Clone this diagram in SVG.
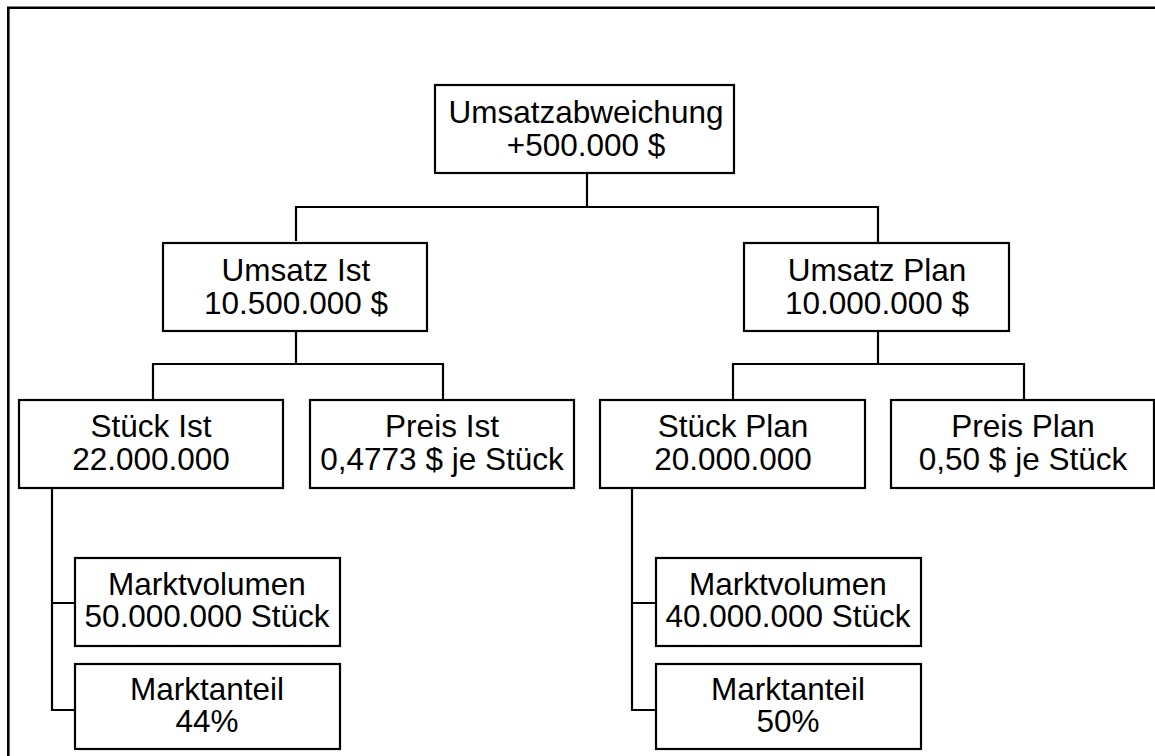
<svg xmlns="http://www.w3.org/2000/svg" width="1155" height="756" viewBox="0 0 1155 756">
  <style>
    .box { fill: #fff; stroke: #000; stroke-width: 2.2; }
    .lbl { font-family: "Liberation Sans", Arial, Helvetica, sans-serif; font-size: 31.5px; fill: #000; text-anchor: middle; }
    .wire { fill: none; stroke: #000; stroke-width: 2.2; stroke-linecap: square; }
    .frame { fill: none; stroke: #000; stroke-width: 2.6; }
  </style>
  <rect width="1155" height="756" fill="#fff"/>
  <!-- open frame: top and left edges only -->
  <path class="frame" d="M1155,7.7 H8.3 V756"/>

  <g id="connectors">
    <path class="wire" d="M587,173 V207 M296,240 V207 H878 V242"/>
    <path class="wire" d="M296,331 V364 M153,398 V364 H443 V398"/>
    <path class="wire" d="M878,331 V364 M733,398 V364 H1024 V398"/>
    <path class="wire" d="M52,488 V710 H74 M52,603 H74"/>
    <path class="wire" d="M632,488 V710 H656 M632,603 H656"/>
  </g>

  <g id="umsatzabweichung">
    <rect class="box" x="435" y="85" width="299" height="88"/>
    <text class="lbl" x="586" y="123">Umsatzabweichung</text>
    <text class="lbl" x="586" y="155.5">+500.000 $</text>
  </g>

  <g id="umsatz-ist">
    <rect class="box" x="163" y="243" width="264" height="88"/>
    <text class="lbl" x="296" y="281">Umsatz Ist</text>
    <text class="lbl" x="296" y="313.5">10.500.000 $</text>
  </g>

  <g id="umsatz-plan">
    <rect class="box" x="744" y="243" width="265" height="88"/>
    <text class="lbl" x="877" y="281">Umsatz Plan</text>
    <text class="lbl" x="877" y="313.5">10.000.000 $</text>
  </g>

  <g id="stueck-ist">
    <rect class="box" x="19" y="400" width="264" height="88"/>
    <text class="lbl" x="151" y="437">Stück Ist</text>
    <text class="lbl" x="151" y="469.5">22.000.000</text>
  </g>

  <g id="preis-ist">
    <rect class="box" x="310" y="400" width="264" height="88"/>
    <text class="lbl" x="442" y="437">Preis Ist</text>
    <text class="lbl" x="442" y="469.5">0,4773 $ je Stück</text>
  </g>

  <g id="stueck-plan">
    <rect class="box" x="600" y="400" width="265" height="88"/>
    <text class="lbl" x="733" y="437">Stück Plan</text>
    <text class="lbl" x="733" y="469.5">20.000.000</text>
  </g>

  <g id="preis-plan">
    <rect class="box" x="891" y="400" width="263" height="88"/>
    <text class="lbl" x="1023" y="437">Preis Plan</text>
    <text class="lbl" x="1023" y="469.5">0,50 $ je Stück</text>
  </g>

  <g id="marktvolumen-ist">
    <rect class="box" x="75" y="558" width="265" height="88"/>
    <text class="lbl" x="207" y="594.5">Marktvolumen</text>
    <text class="lbl" x="207" y="627">50.000.000 Stück</text>
  </g>

  <g id="marktanteil-ist">
    <rect class="box" x="75" y="664" width="265" height="85"/>
    <text class="lbl" x="207" y="699.5">Marktanteil</text>
    <text class="lbl" x="207" y="732">44%</text>
  </g>

  <g id="marktvolumen-plan">
    <rect class="box" x="656" y="558" width="265" height="88"/>
    <text class="lbl" x="788" y="594.5">Marktvolumen</text>
    <text class="lbl" x="788" y="627">40.000.000 Stück</text>
  </g>

  <g id="marktanteil-plan">
    <rect class="box" x="656" y="664" width="265" height="85"/>
    <text class="lbl" x="788" y="699.5">Marktanteil</text>
    <text class="lbl" x="788" y="732">50%</text>
  </g>
</svg>
